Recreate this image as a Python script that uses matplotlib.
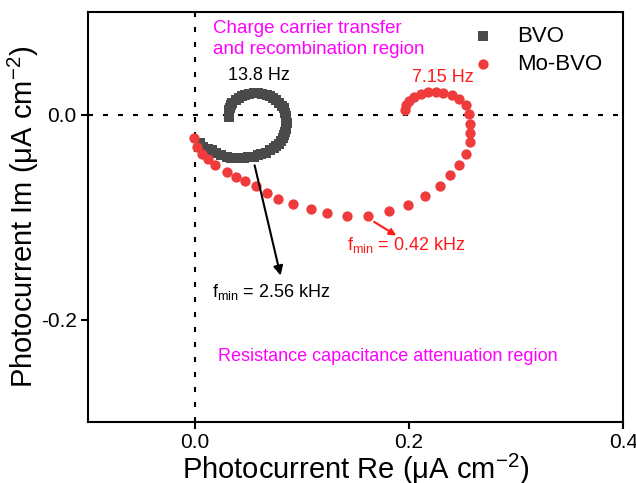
import numpy as np
import matplotlib
matplotlib.use('Agg')
from matplotlib import pyplot as plt

plt.rcParams['font.family'] = ['Liberation Sans', 'DejaVu Sans']
plt.rcParams['axes.unicode_minus'] = False
plt.rcParams['mathtext.default'] = 'regular'

# IMPS data: real / imaginary photocurrent (uA cm-2)
bvo_re = [0.005, 0.008, 0.012, 0.016, 0.020, 0.024, 0.030, 0.034, 0.038, 0.042,
          0.046, 0.050, 0.055, 0.059, 0.062, 0.066, 0.070, 0.074, 0.076, 0.079,
          0.080, 0.082, 0.083, 0.084, 0.085, 0.085, 0.086, 0.085, 0.085, 0.084,
          0.083, 0.081, 0.079, 0.076, 0.073, 0.070, 0.067, 0.063, 0.059, 0.055,
          0.051, 0.047, 0.044, 0.041, 0.038, 0.035, 0.034, 0.033, 0.032, 0.032,
          0.032]
bvo_im = [-0.028, -0.032, -0.034, -0.035, -0.037, -0.039, -0.041, -0.042, -0.042, -0.042,
          -0.042, -0.041, -0.041, -0.039, -0.038, -0.037, -0.035, -0.033, -0.031, -0.029,
          -0.026, -0.023, -0.020, -0.017, -0.014, -0.011, -0.008, -0.004, -0.001, 0.002,
          0.006, 0.008, 0.011, 0.014, 0.016, 0.018, 0.019, 0.020, 0.021, 0.021,
          0.020, 0.019, 0.018, 0.016, 0.014, 0.011, 0.009, 0.006, 0.004, 0.001,
          -0.002]

mobvo_re = [-0.001, 0.002, 0.007, 0.012, 0.019, 0.030, 0.038, 0.047, 0.057, 0.067,
            0.078, 0.092, 0.108, 0.123, 0.142, 0.162, 0.181, 0.199, 0.215, 0.229,
            0.238, 0.247, 0.253, 0.257, 0.257, 0.257, 0.256, 0.253, 0.247, 0.240,
            0.232, 0.225, 0.218, 0.211, 0.205, 0.200, 0.197, 0.196]
mobvo_im = [-0.023, -0.032, -0.038, -0.043, -0.049, -0.056, -0.061, -0.065, -0.070, -0.076,
            -0.082, -0.087, -0.092, -0.096, -0.099, -0.099, -0.094, -0.088, -0.079, -0.070,
            -0.059, -0.049, -0.038, -0.027, -0.018, -0.009, 0.001, 0.009, 0.015, 0.019,
            0.021, 0.022, 0.022, 0.020, 0.017, 0.013, 0.009, 0.004]

fig = plt.figure(figsize=(6.36, 4.83), dpi=100)
ax = fig.add_axes([0.138, 0.126, 0.842, 0.849])

# 零线
ax.axhline(0, color='black', lw=1.5, dashes=(2.4, 4.8), zorder=1)
ax.axvline(0, color='black', lw=1.5, dashes=(2.4, 4.8), zorder=1)

ax.scatter(mobvo_re, mobvo_im, s=55, marker='o', color='#ef3b3b', linewidths=0,
           label='Mo-BVO', zorder=3)
ax.scatter(bvo_re, bvo_im, s=42, marker='s', color='#4a4a4a', linewidths=0,
           label='BVO', zorder=2)

ax.set_xlim(-0.1, 0.4)
ax.set_ylim(-0.3, 0.1)
ax.set_xticks([0.0, 0.2, 0.4])
ax.set_yticks([-0.2, 0.0])
ax.xaxis.set_major_formatter(matplotlib.ticker.FormatStrFormatter('%.1f'))
ax.yaxis.set_major_formatter(matplotlib.ticker.FormatStrFormatter('%.1f'))
ax.tick_params(direction='out', length=5, width=1.5, labelsize=15, pad=3)
for s in ax.spines.values():
    s.set_linewidth(1.5)

ax.set_xlabel('Photocurrent Re (μA cm$^{-2}$)', fontsize=21, labelpad=0)
ax.set_ylabel('Photocurrent Im (μA cm$^{-2}$)', fontsize=21, labelpad=0)

# 图例
h, l = ax.get_legend_handles_labels()
ax.legend([h[1], h[0]], [l[1], l[0]], loc='upper left', bbox_to_anchor=(0.66, 1.015),
          frameon=False, fontsize=16, handletextpad=0.5, labelspacing=0.3,
          scatterpoints=1)

# 标注
ax.text(0.017, 0.074, 'Charge carrier transfer\nand recombination region',
        color='#ff00ff', fontsize=13.5, va='center', ha='left', linespacing=1.3)
ax.text(0.0595, 0.038, '13.8 Hz', color='black', fontsize=13, ha='center', va='center')
ax.text(0.2316, 0.036, '7.15 Hz', color='#ff1a1a', fontsize=13, ha='center', va='center')
ax.text(0.0158, -0.173, 'f$_{min}$ = 2.56 kHz', color='black', fontsize=13,
        ha='left', va='center')
ax.text(0.1423, -0.127, 'f$_{min}$ = 0.42 kHz', color='#ff1a1a', fontsize=13,
        ha='left', va='center')
ax.text(0.0214, -0.236, 'Resistance capacitance attenuation region', color='#ff00ff',
        fontsize=13, ha='left', va='center')

ax.annotate('', xy=(0.080, -0.157), xytext=(0.0558, -0.0495),
            arrowprops=dict(arrowstyle='-|>', color='black', lw=1.5,
                            mutation_scale=14, shrinkA=0, shrinkB=0))
ax.annotate('', xy=(0.188, -0.118), xytext=(0.1674, -0.1046),
            arrowprops=dict(arrowstyle='-|>', color='#ff1a1a', lw=1.5,
                            mutation_scale=10, shrinkA=0, shrinkB=0))

plt.savefig('out.png', dpi=100)
